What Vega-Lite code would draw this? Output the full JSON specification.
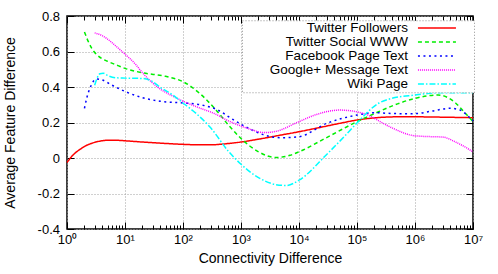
{
  "$schema": "https://vega.github.io/schema/vega-lite/v6.json",
  "width": 406,
  "height": 213,
  "autosize": {"type": "none"},
  "padding": {"left": 67, "top": 16, "right": 25, "bottom": 45},
  "background": "white",
  "config": {
    "view": {"stroke": "black", "strokeWidth": 1.5},
    "font": "Liberation Sans",
    "axis": {
      "labelFont": "Liberation Sans",
      "titleFont": "Liberation Sans",
      "labelColor": "black",
      "titleColor": "black",
      "titleFontWeight": "normal",
      "domain": false,
      "tickColor": "black",
      "tickWidth": 1,
      "gridColor": "#a0a0a0",
      "gridDash": [1, 2],
      "gridWidth": 1
    },
    "legend": {
      "strokeColor": "#909090",
      "strokeWidth": 1,
      "strokeDash": [1, 2]
    }
  },
  "data": {
    "values": [
      {"series": "Twitter Followers", "x": 1, "y": -0.025},
      {"series": "Twitter Followers", "x": 1.3, "y": 0.02},
      {"series": "Twitter Followers", "x": 1.7, "y": 0.05},
      {"series": "Twitter Followers", "x": 2.2, "y": 0.072},
      {"series": "Twitter Followers", "x": 3, "y": 0.088},
      {"series": "Twitter Followers", "x": 4, "y": 0.097},
      {"series": "Twitter Followers", "x": 5, "y": 0.1},
      {"series": "Twitter Followers", "x": 7, "y": 0.1},
      {"series": "Twitter Followers", "x": 10, "y": 0.097},
      {"series": "Twitter Followers", "x": 20, "y": 0.09},
      {"series": "Twitter Followers", "x": 50, "y": 0.082},
      {"series": "Twitter Followers", "x": 100, "y": 0.077},
      {"series": "Twitter Followers", "x": 200, "y": 0.074},
      {"series": "Twitter Followers", "x": 300, "y": 0.074},
      {"series": "Twitter Followers", "x": 500, "y": 0.079},
      {"series": "Twitter Followers", "x": 1000, "y": 0.09},
      {"series": "Twitter Followers", "x": 2000, "y": 0.106},
      {"series": "Twitter Followers", "x": 5000, "y": 0.13},
      {"series": "Twitter Followers", "x": 10000, "y": 0.148},
      {"series": "Twitter Followers", "x": 20000, "y": 0.168},
      {"series": "Twitter Followers", "x": 50000, "y": 0.195},
      {"series": "Twitter Followers", "x": 100000, "y": 0.214},
      {"series": "Twitter Followers", "x": 200000, "y": 0.226},
      {"series": "Twitter Followers", "x": 500000, "y": 0.232},
      {"series": "Twitter Followers", "x": 1000000, "y": 0.232},
      {"series": "Twitter Followers", "x": 3000000, "y": 0.23},
      {"series": "Twitter Followers", "x": 10000000, "y": 0.227},

      {"series": "Twitter Social WWW", "x": 2, "y": 0.71},
      {"series": "Twitter Social WWW", "x": 2.3, "y": 0.66},
      {"series": "Twitter Social WWW", "x": 2.7, "y": 0.615},
      {"series": "Twitter Social WWW", "x": 3.2, "y": 0.585},
      {"series": "Twitter Social WWW", "x": 4, "y": 0.56},
      {"series": "Twitter Social WWW", "x": 5, "y": 0.545},
      {"series": "Twitter Social WWW", "x": 7, "y": 0.525},
      {"series": "Twitter Social WWW", "x": 10, "y": 0.505},
      {"series": "Twitter Social WWW", "x": 20, "y": 0.48},
      {"series": "Twitter Social WWW", "x": 50, "y": 0.46},
      {"series": "Twitter Social WWW", "x": 100, "y": 0.43},
      {"series": "Twitter Social WWW", "x": 200, "y": 0.36},
      {"series": "Twitter Social WWW", "x": 350, "y": 0.28},
      {"series": "Twitter Social WWW", "x": 630, "y": 0.18},
      {"series": "Twitter Social WWW", "x": 1000, "y": 0.11},
      {"series": "Twitter Social WWW", "x": 2000, "y": 0.035},
      {"series": "Twitter Social WWW", "x": 4000, "y": 0.003},
      {"series": "Twitter Social WWW", "x": 7000, "y": 0.015},
      {"series": "Twitter Social WWW", "x": 10000, "y": 0.035},
      {"series": "Twitter Social WWW", "x": 30000, "y": 0.115},
      {"series": "Twitter Social WWW", "x": 100000, "y": 0.205},
      {"series": "Twitter Social WWW", "x": 200000, "y": 0.25},
      {"series": "Twitter Social WWW", "x": 500000, "y": 0.305},
      {"series": "Twitter Social WWW", "x": 1000000, "y": 0.336},
      {"series": "Twitter Social WWW", "x": 2500000, "y": 0.355},
      {"series": "Twitter Social WWW", "x": 5000000, "y": 0.31},
      {"series": "Twitter Social WWW", "x": 7000000, "y": 0.26},
      {"series": "Twitter Social WWW", "x": 10000000, "y": 0.205},

      {"series": "Facebook Page Text", "x": 2, "y": 0.28},
      {"series": "Facebook Page Text", "x": 2.2, "y": 0.34},
      {"series": "Facebook Page Text", "x": 2.5, "y": 0.395},
      {"series": "Facebook Page Text", "x": 2.9, "y": 0.435},
      {"series": "Facebook Page Text", "x": 3.3, "y": 0.445},
      {"series": "Facebook Page Text", "x": 4, "y": 0.44},
      {"series": "Facebook Page Text", "x": 6, "y": 0.41},
      {"series": "Facebook Page Text", "x": 10, "y": 0.375},
      {"series": "Facebook Page Text", "x": 20, "y": 0.34},
      {"series": "Facebook Page Text", "x": 40, "y": 0.32},
      {"series": "Facebook Page Text", "x": 100, "y": 0.31},
      {"series": "Facebook Page Text", "x": 200, "y": 0.3},
      {"series": "Facebook Page Text", "x": 400, "y": 0.27},
      {"series": "Facebook Page Text", "x": 700, "y": 0.22},
      {"series": "Facebook Page Text", "x": 1000, "y": 0.19},
      {"series": "Facebook Page Text", "x": 1500, "y": 0.16},
      {"series": "Facebook Page Text", "x": 2500, "y": 0.13},
      {"series": "Facebook Page Text", "x": 5000, "y": 0.114},
      {"series": "Facebook Page Text", "x": 10000, "y": 0.12},
      {"series": "Facebook Page Text", "x": 30000, "y": 0.195},
      {"series": "Facebook Page Text", "x": 100000, "y": 0.242},
      {"series": "Facebook Page Text", "x": 200000, "y": 0.255},
      {"series": "Facebook Page Text", "x": 500000, "y": 0.25},
      {"series": "Facebook Page Text", "x": 1000000, "y": 0.25},
      {"series": "Facebook Page Text", "x": 2000000, "y": 0.265},
      {"series": "Facebook Page Text", "x": 4000000, "y": 0.28},
      {"series": "Facebook Page Text", "x": 6000000, "y": 0.27},
      {"series": "Facebook Page Text", "x": 8000000, "y": 0.24},
      {"series": "Facebook Page Text", "x": 10000000, "y": 0.21},

      {"series": "Google+ Message Text", "x": 3, "y": 0.705},
      {"series": "Google+ Message Text", "x": 4, "y": 0.69},
      {"series": "Google+ Message Text", "x": 5, "y": 0.67},
      {"series": "Google+ Message Text", "x": 7, "y": 0.63},
      {"series": "Google+ Message Text", "x": 10, "y": 0.585},
      {"series": "Google+ Message Text", "x": 15, "y": 0.53},
      {"series": "Google+ Message Text", "x": 20, "y": 0.48},
      {"series": "Google+ Message Text", "x": 40, "y": 0.39},
      {"series": "Google+ Message Text", "x": 70, "y": 0.345},
      {"series": "Google+ Message Text", "x": 100, "y": 0.32},
      {"series": "Google+ Message Text", "x": 200, "y": 0.28},
      {"series": "Google+ Message Text", "x": 350, "y": 0.25},
      {"series": "Google+ Message Text", "x": 600, "y": 0.21},
      {"series": "Google+ Message Text", "x": 1000, "y": 0.18},
      {"series": "Google+ Message Text", "x": 1500, "y": 0.16},
      {"series": "Google+ Message Text", "x": 2500, "y": 0.143},
      {"series": "Google+ Message Text", "x": 4000, "y": 0.15},
      {"series": "Google+ Message Text", "x": 10000, "y": 0.205},
      {"series": "Google+ Message Text", "x": 20000, "y": 0.245},
      {"series": "Google+ Message Text", "x": 50000, "y": 0.27},
      {"series": "Google+ Message Text", "x": 100000, "y": 0.26},
      {"series": "Google+ Message Text", "x": 160000, "y": 0.24},
      {"series": "Google+ Message Text", "x": 250000, "y": 0.205},
      {"series": "Google+ Message Text", "x": 400000, "y": 0.17},
      {"series": "Google+ Message Text", "x": 1000000, "y": 0.125},
      {"series": "Google+ Message Text", "x": 2000000, "y": 0.12},
      {"series": "Google+ Message Text", "x": 3000000, "y": 0.118},
      {"series": "Google+ Message Text", "x": 5000000, "y": 0.09},
      {"series": "Google+ Message Text", "x": 10000000, "y": 0.035},

      {"series": "Wiki Page", "x": 3, "y": 0.41},
      {"series": "Wiki Page", "x": 3.3, "y": 0.45},
      {"series": "Wiki Page", "x": 3.7, "y": 0.475},
      {"series": "Wiki Page", "x": 4.2, "y": 0.478},
      {"series": "Wiki Page", "x": 5, "y": 0.465},
      {"series": "Wiki Page", "x": 7, "y": 0.452},
      {"series": "Wiki Page", "x": 10, "y": 0.45},
      {"series": "Wiki Page", "x": 20, "y": 0.448},
      {"series": "Wiki Page", "x": 30, "y": 0.43},
      {"series": "Wiki Page", "x": 40, "y": 0.4},
      {"series": "Wiki Page", "x": 70, "y": 0.35},
      {"series": "Wiki Page", "x": 100, "y": 0.31},
      {"series": "Wiki Page", "x": 150, "y": 0.265},
      {"series": "Wiki Page", "x": 300, "y": 0.17},
      {"series": "Wiki Page", "x": 600, "y": 0.04},
      {"series": "Wiki Page", "x": 1000, "y": -0.035},
      {"series": "Wiki Page", "x": 2000, "y": -0.11},
      {"series": "Wiki Page", "x": 4000, "y": -0.15},
      {"series": "Wiki Page", "x": 6000, "y": -0.155},
      {"series": "Wiki Page", "x": 10000, "y": -0.125},
      {"series": "Wiki Page", "x": 30000, "y": 0.02},
      {"series": "Wiki Page", "x": 60000, "y": 0.12},
      {"series": "Wiki Page", "x": 100000, "y": 0.197},
      {"series": "Wiki Page", "x": 240000, "y": 0.31},
      {"series": "Wiki Page", "x": 320000, "y": 0.327},
      {"series": "Wiki Page", "x": 1000000, "y": 0.355},
      {"series": "Wiki Page", "x": 3000000, "y": 0.368},
      {"series": "Wiki Page", "x": 10000000, "y": 0.368}
    ]
  },
  "layer": [
    {
      "mark": {"type": "line", "interpolate": "monotone", "strokeWidth": 1.5},
      "encoding": {
        "x": {
          "field": "x",
          "type": "quantitative",
          "scale": {"type": "log", "domain": [1, 10000000], "nice": false},
          "axis": {
            "orient": "bottom",
            "values": [1,2,3,4,5,6,7,8,9,10,20,30,40,50,60,70,80,90,100,200,300,400,500,600,700,800,900,1000,2000,3000,4000,5000,6000,7000,8000,9000,10000,20000,30000,40000,50000,60000,70000,80000,90000,100000,200000,300000,400000,500000,600000,700000,800000,900000,1000000,2000000,3000000,4000000,5000000,6000000,7000000,8000000,9000000,10000000],
            "labelExpr": "abs(log(datum.value)/LN10 - round(log(datum.value)/LN10)) < 0.001 ? '10' + ['⁰','¹','²','³','⁴','⁵','⁶','⁷'][round(log(datum.value)/LN10)] : ''",
            "labelFlush": false,
            "labelOverlap": false,
            "labelFontSize": 13,
            "labelPadding": 11.5,
            "tickSize": {"condition": {"test": "abs(log(datum.value)/LN10 - round(log(datum.value)/LN10)) < 0.001", "value": -7}, "value": -4},
            "grid": true,
            "gridOpacity": {"condition": {"test": "abs(log(datum.value)/LN10 - round(log(datum.value)/LN10)) < 0.001", "value": 1}, "value": 0},
            "title": "Connectivity Difference",
            "titleFontSize": 14,
            "titleY": 33.5,
            "titleBaseline": "alphabetic"
          }
        },
        "y": {
          "field": "y",
          "type": "quantitative",
          "scale": {"domain": [-0.4, 0.8], "nice": false, "zero": false},
          "axis": {
            "orient": "left",
            "values": [-0.4, -0.2, 0, 0.2, 0.4, 0.6, 0.8],
            "labelExpr": "datum.value == 0 ? '0' : (datum.value < 0 ? '-' : '') + format(abs(datum.value), '.1f')",
            "labelFontSize": 13,
            "labelPadding": 14.5,
            "tickSize": -7,
            "grid": true,
            "title": "Average Feature Difference",
            "titleFontSize": 14,
            "titleX": -52.5,
            "titleY": 106.5,
            "titleBaseline": "alphabetic"
          }
        },
        "color": {
          "field": "series",
          "type": "nominal",
          "scale": {
            "domain": ["Twitter Followers", "Twitter Social WWW", "Facebook Page Text", "Google+ Message Text", "Wiki Page"],
            "range": ["#ff0000", "#00ee00", "#0000ff", "#ff00ff", "#00ffff"]
          },
          "legend": {
            "title": null,
            "orient": "none",
            "legendX": 175,
            "legendY": 4.25,
            "padding": 1,
            "fillColor": "white",
            "strokeColor": "#909090",
            "symbolType": "M84.1,0L103.1,0M110.1,0",
            "symbolSize": 16,
            "symbolStrokeWidth": 1.5,
            "labelAlign": "right",
            "labelOffset": 151.5,
            "labelFontSize": 13.5,
            "labelFont": "Liberation Sans",
            "labelColor": "black",
            "labelLimit": 0,
            "rowPadding": -1
          }
        },
        "strokeDash": {
          "field": "series",
          "type": "nominal",
          "scale": {
            "domain": ["Twitter Followers", "Twitter Social WWW", "Facebook Page Text", "Google+ Message Text", "Wiki Page"],
            "range": [[1, 0], [4, 3], [2, 3.5], [1, 1], [6, 2, 1.5, 2]]
          },
          "legend": {
            "title": null,
            "orient": "none",
            "legendX": 175,
            "legendY": 4.25,
            "padding": 1,
            "fillColor": "white",
            "strokeColor": "#909090",
            "symbolType": "M84.1,0L103.1,0M110.1,0",
            "symbolSize": 16,
            "symbolStrokeWidth": 1.5,
            "labelAlign": "right",
            "labelOffset": 151.5,
            "labelFontSize": 13.5,
            "labelFont": "Liberation Sans",
            "labelColor": "black",
            "labelLimit": 0,
            "rowPadding": -1
          }
        }
      }
    },
    {
      "mark": {"type": "line", "opacity": 0},
      "encoding": {
        "x": {
          "field": "x",
          "type": "quantitative",
          "axis": {
            "orient": "top",
            "values": [1,2,3,4,5,6,7,8,9,10,20,30,40,50,60,70,80,90,100,200,300,400,500,600,700,800,900,1000,2000,3000,4000,5000,6000,7000,8000,9000,10000,20000,30000,40000,50000,60000,70000,80000,90000,100000,200000,300000,400000,500000,600000,700000,800000,900000,1000000,2000000,3000000,4000000,5000000,6000000,7000000,8000000,9000000,10000000],
            "labels": false,
            "grid": false,
            "tickSize": {"condition": {"test": "abs(log(datum.value)/LN10 - round(log(datum.value)/LN10)) < 0.001", "value": -7}, "value": -4},
            "title": null
          }
        },
        "y": {
          "field": "y",
          "type": "quantitative",
          "axis": {
            "orient": "right",
            "values": [-0.4, -0.2, 0, 0.2, 0.4, 0.6, 0.8],
            "labels": false,
            "grid": false,
            "tickSize": -7,
            "title": null
          }
        },
        "detail": {"field": "series", "type": "nominal"}
      }
    }
  ],
  "resolve": {"axis": {"x": "independent", "y": "independent"}}
}
